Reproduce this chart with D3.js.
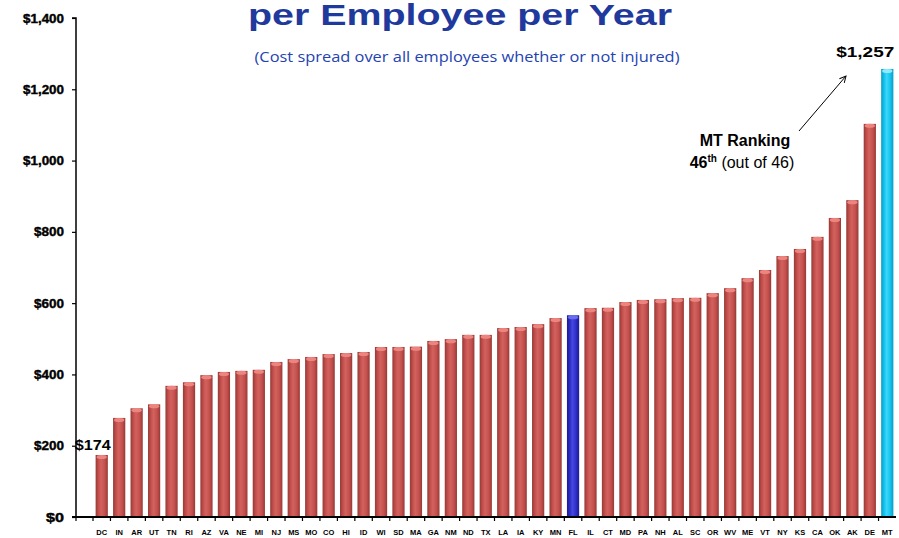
<!DOCTYPE html>
<html>
<head>
<meta charset="utf-8">
<script src="https://cdn.jsdelivr.net/npm/d3@7"></script>
<style>
  html, body { margin: 0; padding: 0; background: #fff; }
  svg { display: block; }
</style>
</head>
<body>
<svg id="chart" width="899" height="538"></svg>
<script>
// State codes, ordered from lowest to highest cost
const states = ["DC","IN","AR","UT","TN","RI","AZ","VA","NE","MI","NJ","MS","MO","CO","HI","ID",
  "WI","SD","MA","GA","NM","ND","TX","LA","IA","KY","MN","FL","IL","CT","MD","PA","NH","AL","SC",
  "OR","WV","ME","VT","NY","KS","CA","OK","AK","DE","MT"];
// Cost per employee per year ($)
const costs = [174,278,305,316,368,378,398,407,410,413,435,443,449,457,460,463,
  477,477,478,494,499,511,511,530,533,541,558,566,586,587,603,609,611,614,615,
  628,642,670,693,732,752,786,839,889,1103,1257];
const yTicks = [0,200,400,600,800,1000,1200,1400];
const highlight = { FL: "blue", MT: "cyan" };

const svg = d3.select("#chart");
const x0 = 76, yTop = 18, yBase = 517;

const x = d3.scaleBand().domain(states).range([93, 896]).paddingInner(0.3).paddingOuter(0.15);
const y = d3.scaleLinear().domain([0, 1400]).range([yBase, yTop]);
const money = d => "$" + d3.format(",")(d);

// Gradients giving the bars a rounded, cylinder look
const defs = svg.append("defs");
function cyl(id, dark, mid, light) {
  const g = defs.append("linearGradient").attr("id", id).attr("x1", "0").attr("x2", "1").attr("y1", "0").attr("y2", "0");
  g.append("stop").attr("offset", "0%").attr("stop-color", dark);
  g.append("stop").attr("offset", "25%").attr("stop-color", mid);
  g.append("stop").attr("offset", "45%").attr("stop-color", light);
  g.append("stop").attr("offset", "75%").attr("stop-color", mid);
  g.append("stop").attr("offset", "100%").attr("stop-color", dark);
}
cyl("gRed", "#963936", "#c4504d", "#d2625e");
cyl("gBlue", "#1c1c8c", "#2d2dc8", "#4646e0");
cyl("gCyan", "#0a9cc0", "#12c4ee", "#3fd6fa");
const capColor = { red: "#ec8580", blue: "#6b6bf0", cyan: "#8fe9ff" };

function kind(s) { return highlight[s] || "red"; }
const fillId = { red: "url(#gRed)", blue: "url(#gBlue)", cyan: "url(#gCyan)" };

const bars = svg.append("g").selectAll("g").data(states).join("g");
bars.append("rect")
  .attr("x", d => x(d))
  .attr("y", (d, i) => y(costs[i]))
  .attr("width", x.bandwidth())
  .attr("height", (d, i) => yBase - y(costs[i]))
  .attr("fill", d => fillId[kind(d)]);
bars.append("ellipse")
  .attr("cx", d => x(d) + x.bandwidth() / 2)
  .attr("cy", (d, i) => y(costs[i]) + 2)
  .attr("rx", x.bandwidth() / 2 - 1)
  .attr("ry", 2)
  .attr("fill", d => capColor[kind(d)]);

// Y axis
const yAxis = d3.axisLeft(y).tickValues(yTicks).tickSize(4).tickPadding(8).tickFormat(money);
const gy = svg.append("g").attr("transform", `translate(${x0},0)`).call(yAxis);
gy.select(".domain").attr("stroke", "#000").attr("stroke-width", 1.5).attr("d", `M-4,${yTop}H0V${yBase}`);
gy.selectAll(".tick line").attr("stroke", "#000").attr("stroke-width", 1.2);
gy.selectAll(".tick text").attr("font-family", "Liberation Sans, Arial, sans-serif")
  .attr("font-weight", "bold").attr("font-size", 12.5).attr("fill", "#000")
  .attr("stroke", "#000").attr("stroke-width", 0.4)
  .attr("textLength", d => d >= 1000 ? 41 : d > 0 ? 30 : 18).attr("lengthAdjust", "spacingAndGlyphs");

// X axis: baseline with ticks at category boundaries
svg.append("line").attr("x1", x0 - 4).attr("x2", 896).attr("y1", yBase).attr("y2", yBase)
  .attr("stroke", "#000").attr("stroke-width", 2);
const bounds = [x0].concat(states.map(s => x(s) - x.step() * x.paddingInner() / 2));
svg.append("g").selectAll("line").data(bounds).join("line")
  .attr("x1", d => d).attr("x2", d => d).attr("y1", yBase).attr("y2", yBase + 4)
  .attr("stroke", "#000").attr("stroke-width", 1.2);
svg.append("g").selectAll("text").data(states).join("text")
  .attr("x", d => x(d) + x.bandwidth() / 2)
  .attr("y", 535)
  .attr("text-anchor", "middle")
  .attr("font-family", "Liberation Sans, Arial, sans-serif")
  .attr("font-weight", "bold").attr("font-size", 7.5).attr("fill", "#000")
  .text(d => d);

// Titles
svg.append("text").attr("x", 460).attr("y", 25).attr("text-anchor", "middle")
  .attr("font-family", "Liberation Sans, Arial, sans-serif").attr("font-weight", "bold")
  .attr("font-size", 29).attr("fill", "#1f3a9c")
  .attr("textLength", 424).attr("lengthAdjust", "spacingAndGlyphs")
  .text("per Employee per Year");
svg.append("text").attr("x", 467).attr("y", 62).attr("text-anchor", "middle")
  .attr("font-family", "Open Sans, Noto Sans, sans-serif")
  .attr("font-size", 14).attr("fill", "#2443b0")
  .attr("textLength", 425).attr("lengthAdjust", "spacingAndGlyphs")
  .text("(Cost spread over all employees whether or not injured)");

// Value callouts for the lowest and highest bars
const first = 0, last = states.length - 1;
svg.append("text").attr("x", x(states[first]) + x.bandwidth() / 2 - 9).attr("y", y(costs[first]) - 9)
  .attr("text-anchor", "middle").attr("dominant-baseline", "middle")
  .attr("font-family", "Liberation Sans, Arial, sans-serif").attr("font-weight", "bold")
  .attr("font-size", 14).attr("fill", "#000")
  .attr("textLength", 36).attr("lengthAdjust", "spacingAndGlyphs")
  .text(money(costs[first]));
svg.append("text").attr("x", x(states[last]) + x.bandwidth() / 2 - 22).attr("y", y(costs[last]) - 16)
  .attr("text-anchor", "middle").attr("dominant-baseline", "middle")
  .attr("font-family", "Liberation Sans, Arial, sans-serif").attr("font-weight", "bold")
  .attr("font-size", 14).attr("fill", "#000")
  .attr("textLength", 58).attr("lengthAdjust", "spacingAndGlyphs")
  .text(money(costs[last]));

// Ranking note with arrow
defs.append("marker").attr("id", "arrow").attr("viewBox", "0 0 10 10").attr("refX", 9).attr("refY", 5)
  .attr("markerWidth", 8).attr("markerHeight", 8).attr("orient", "auto")
  .append("path").attr("d", "M1,1L9,5L1,9").attr("fill", "none").attr("stroke", "#000").attr("stroke-width", 1.2);
svg.append("line").attr("x1", 799).attr("y1", 131).attr("x2", 846).attr("y2", 76)
  .attr("stroke", "#000").attr("stroke-width", 1).attr("marker-end", "url(#arrow)");
svg.append("text").attr("x", 745).attr("y", 146).attr("text-anchor", "middle")
  .attr("font-family", "Liberation Sans, Arial, sans-serif").attr("font-weight", "bold")
  .attr("font-size", 16).attr("fill", "#000").text("MT Ranking");
const rank = svg.append("text").attr("x", 742).attr("y", 168).attr("text-anchor", "middle")
  .attr("font-family", "Liberation Sans, Arial, sans-serif").attr("font-size", 16).attr("fill", "#000");
rank.append("tspan").attr("font-weight", "bold").text(states.length);
rank.append("tspan").attr("font-weight", "bold").attr("font-size", 10).attr("dy", -6).text("th");
rank.append("tspan").attr("dy", 6).text(" (out of " + states.length + ")");
</script>
</body>
</html>
